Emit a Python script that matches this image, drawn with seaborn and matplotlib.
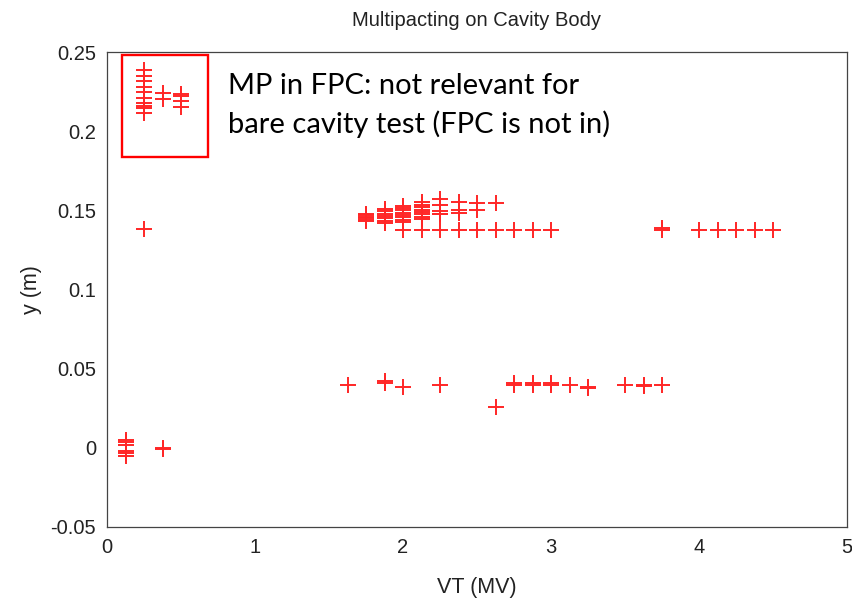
import numpy as np
import pandas as pd
import matplotlib
matplotlib.use("Agg")
import matplotlib.pyplot as plt
import seaborn as sns
from matplotlib.patches import Rectangle

# ---- data ----
fpc_vt = [0.25]*10 + [0.375]*2 + [0.5]*4
fpc_y = [0.2385, 0.235, 0.2315, 0.228, 0.2245, 0.221, 0.2175, 0.216, 0.2145, 0.2115,
         0.224, 0.2205,
         0.2235, 0.222, 0.219, 0.2155]

single_vt = [0.25]
single_y = [0.138]

upper_vt = ([1.75]*6 + [1.875]*7 + [2.0]*8 + [2.125]*8 + [2.25]*5 +
            [2.375]*3 + [2.5]*2 + [2.625])
upper_y = ([0.143, 0.144, 0.145, 0.146, 0.147, 0.148] +
           [0.142, 0.1435, 0.145, 0.1465, 0.148, 0.1495, 0.151] +
           [0.1425, 0.144, 0.1455, 0.147, 0.1485, 0.150, 0.1515, 0.153] +
           [0.1445, 0.146, 0.1475, 0.149, 0.1505, 0.152, 0.1535, 0.155] +
           [0.157, 0.1535, 0.1495, 0.1475, 0.148] +
           [0.1555, 0.150, 0.1485] +
           [0.1545, 0.1505] +
           [0.1545])

band_vt = [2.0, 2.125, 2.25, 2.375, 2.5, 2.625, 2.75, 2.875, 3.0,
           3.75, 3.75, 4.0, 4.125, 4.25, 4.375, 4.5]
band_y = [0.1375]*9 + [0.1375, 0.139] + [0.1375]*5

low_vt = [1.625, 1.875, 1.875, 2.0, 2.25, 2.625, 2.75, 2.75, 2.875, 2.875,
          3.0, 3.0, 3.125, 3.25, 3.25, 3.5, 3.625, 3.625, 3.75]
low_y = [0.0395, 0.041, 0.042, 0.0385, 0.0395, 0.0255, 0.040, 0.041, 0.040, 0.041,
         0.040, 0.041, 0.040, 0.0385, 0.0375, 0.0395, 0.039, 0.040, 0.0395]

zero_vt = [0.125]*6 + [0.375]*2
zero_y = [0.005, 0.0035, 0.002, -0.002, -0.0035, -0.005, 0.0, -0.001]

x_ticks = [0, 1, 2, 3, 4, 5]
y_ticks = [-0.05, 0, 0.05, 0.1, 0.15, 0.2, 0.25]
y_tick_labels = ["-0.05", "0", "0.05", "0.1", "0.15", "0.2", "0.25"]

df = pd.DataFrame({
    "VT": fpc_vt + single_vt + upper_vt + band_vt + low_vt + zero_vt,
    "y": fpc_y + single_y + upper_y + band_y + low_y + zero_y,
})

# ---- plot ----
sns.set_style("white")
plt.rcParams["font.family"] = ["Liberation Sans", "DejaVu Sans"]

fig = plt.figure(figsize=(8.52, 6.03), dpi=100)
ax = fig.add_axes([107/852, 1 - 527/603, (847-107)/852, (527-52)/603])

sns.scatterplot(data=df, x="VT", y="y", marker="+", color="#ff2626",
                s=130, linewidth=1.4, ax=ax, legend=False)

ax.set_xlim(0, 5)
ax.set_ylim(-0.05, 0.25)
ax.set_xticks(x_ticks)
ax.set_xticklabels([str(t) for t in x_ticks])
ax.set_yticks(y_ticks)
ax.set_yticklabels(y_tick_labels)
ax.tick_params(direction="in", length=5, width=0.8, colors="#333333",
               labelsize=14.5, labelcolor="#222222", pad=8)
for s in ax.spines.values():
    s.set_color("#444444")
    s.set_linewidth(0.9)

ax.set_xlabel("VT (MV)", fontsize=15.5, color="#222222", labelpad=14)
ax.set_ylabel("y (m)", fontsize=15.5, color="#222222", labelpad=6)
ax.set_title("Multipacting on Cavity Body", fontsize=14.5, color="#222222", pad=19)

# highlight box
ax.add_patch(Rectangle((0.101, 0.1837), 0.682 - 0.101, 0.248 - 0.1837,
                       fill=False, edgecolor="#ff0000", linewidth=1.7,
                       clip_on=False, zorder=5))

fig.text(228/852, 1 - 73/603,
         "MP in FPC: not relevant for\nbare cavity test (FPC is not in)",
         fontsize=21, family=["Lato", "DejaVu Sans"], color="black",
         va="top", ha="left", linespacing=1.5)

fig.savefig("out.png", dpi=100)
